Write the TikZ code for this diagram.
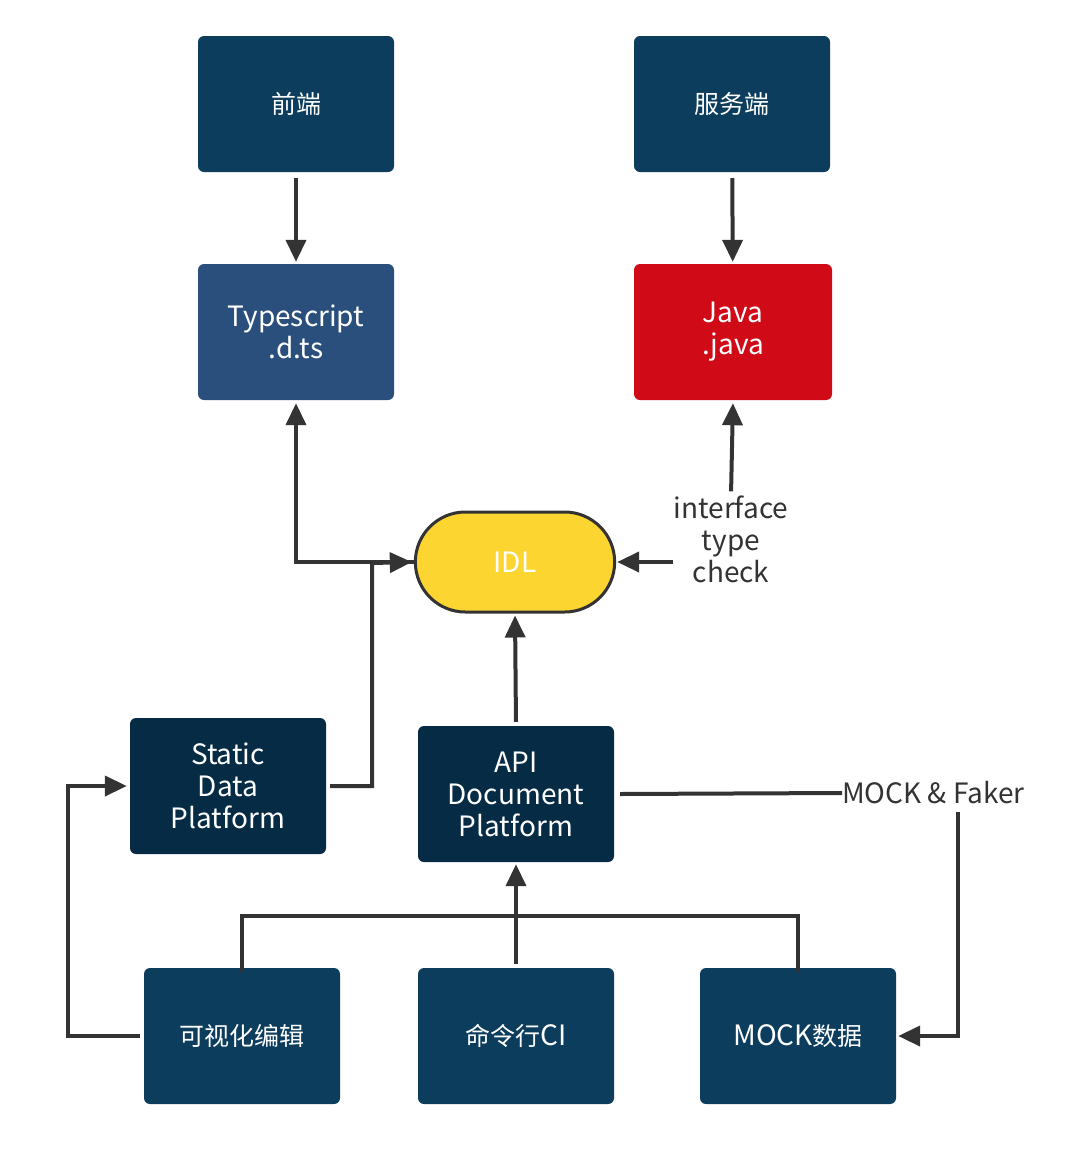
\documentclass[tikz,border=0pt]{standalone}
\usepackage{fontspec}
\setmainfont{Noto Sans CJK SC}
\usetikzlibrary{arrows.meta,shapes.misc}
\definecolor{navy}{HTML}{0C3D5D}
\definecolor{deepnavy}{HTML}{062B45}
\definecolor{tsblue}{HTML}{2B4F7D}
\definecolor{javared}{HTML}{D00A17}
\definecolor{idlyellow}{HTML}{FDD531}
\definecolor{ink}{HTML}{333333}
% Chinese glyphs are set a little smaller than the Latin ones
\newcommand{\zh}[1]{{\fontsize{25}{32}\selectfont #1}}
\tikzset{
  box/.style={rectangle, rounded corners=6pt, minimum width=196pt, minimum height=136pt,
    inner sep=0pt, text=white, align=center, font=\fontsize{28}{32}\selectfont},
  note/.style={text=ink, align=center, inner sep=0pt, font=\fontsize{28}{32}\selectfont},
  link/.style={draw=ink, line width=4pt},
  arr/.style={link, -{Triangle[length=22pt,width=20pt]}},
}
\begin{document}
\begin{tikzpicture}[x=1pt,y=-1pt]
\useasboundingbox (0,0) rectangle (1070,1160);

% top row
\node[box, fill=navy] (fe) at (296,104) {\zh{前端}};
\node[box, fill=navy] (be) at (732,104) {\zh{服务端}};
\node[box, fill=tsblue] (ts) at (296,332) {Typescript\\.d.ts};
\node[box, fill=javared, minimum width=198pt] (java) at (733,332) {Java\\.java};

% IDL
\node[rounded rectangle, draw=ink, line width=3pt, fill=idlyellow, minimum width=206pt,
  minimum height=100pt, text=white, font=\fontsize{28}{32}\selectfont] (idl) at (515,562) {IDL};
\node[note] (check) at (731,539) {interface\\type\\check};

% platforms
\node[box, fill=deepnavy] (static) at (228,786) {Static\\Data\\Platform};
\node[box, fill=deepnavy] (api) at (516,794) {API\\Document\\Platform};
\node[note, anchor=west] (faker) at (842,793) {MOCK \& Faker};

% bottom row
\node[box, fill=navy] (vis) at (242,1036) {\zh{可视化编辑}};
\node[box, fill=navy] (cli) at (516,1036) {\zh{命令行}CI};
\node[box, fill=navy] (mock) at (798,1036) {MOCK\zh{数据}};

\coordinate (jstatic) at (372,563);
\coordinate (jbus) at (516,916);
\coordinate (fdrop) at (958,812);
\coordinate (lturn) at (68,900);

% connectors
\draw[arr, shorten <=6pt, shorten >=2pt] (fe) -- (ts);
\draw[arr, shorten <=6pt, shorten >=2pt] (be) -- (java);
\draw[arr, shorten >=3pt] (idl.west) -| (ts.south);
\draw[arr, shorten >=2pt] ([xshift=4pt]static.east) -| (jstatic) -- (idl.west);
\draw[arr, shorten <=4pt, shorten >=3pt] (check.north) -- (java.south);
\draw[arr, shorten >=1pt] (check.west |- idl.east) -- (idl.east);
\draw[arr, shorten <=4pt, shorten >=2pt] (api.north) -- (idl.south);
\draw[link] ([xshift=6pt]api.east) -- (faker.west);
\draw[arr, shorten >=2pt] (fdrop) |- (mock.east);
\draw[link] ([yshift=-4pt]vis.north) |- (jbus) -| ([yshift=-4pt]mock.north);
\draw[arr, shorten <=4pt, shorten >=2pt] (cli.north) -- (api.south);
\draw[arr, shorten >=3pt] ([xshift=-4pt]vis.west) -| (lturn) |- (static.west);
\end{tikzpicture}
\end{document}
